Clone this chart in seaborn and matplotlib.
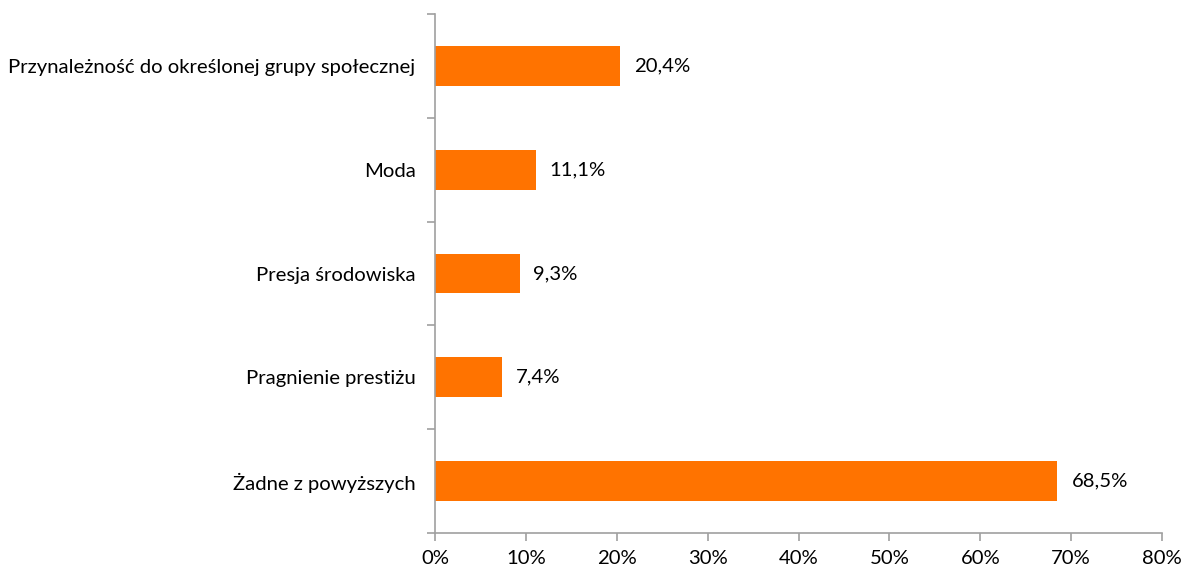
import matplotlib
matplotlib.use("Agg")
import matplotlib.pyplot as plt
import seaborn as sns
import pandas as pd
from matplotlib.ticker import FixedLocator, PercentFormatter

categories = ["Przynależność do określonej grupy społecznej", "Moda", "Presja środowiska",
              "Pragnienie prestiżu", "Żadne z powyższych"]
values = [20.4, 11.1, 9.3, 7.4, 68.5]
xticks = [0, 10, 20, 30, 40, 50, 60, 70, 80]

sns.set_theme(style="white")
plt.rcParams['font.family'] = ['Lato', 'DejaVu Sans']
FS = 14.6

df = pd.DataFrame({"cat": categories, "val": values})
fig = plt.figure(figsize=(11.86, 5.70), dpi=100)
ax = fig.add_axes([435/1186, 1-533/570, (1162-435)/1186, (533-14)/570])
sns.barplot(data=df, x="val", y="cat", orient="h", color="#FF7300", saturation=1,
            width=0.385, ax=ax)
for p in ax.patches:
    p.set_edgecolor("none")

ax.set_xlim(0, 80)
ax.set_ylim(4.5, -0.5)
ax.xaxis.set_major_locator(FixedLocator(xticks))
ax.xaxis.set_major_formatter(PercentFormatter(decimals=0))
ax.set_xlabel("")
ax.set_ylabel("")

n = len(categories)
ax.yaxis.set_major_locator(FixedLocator([i - 0.5 for i in range(n + 1)]))
ax.yaxis.set_minor_locator(FixedLocator(list(range(n))))
ax.yaxis.set_major_formatter(plt.NullFormatter())
ax.yaxis.set_minor_formatter(plt.FixedFormatter(categories))
ax.tick_params(axis="y", which="minor", length=0, pad=14, labelsize=FS, colors="black")
ax.tick_params(axis="y", which="major", length=6, width=1.2, color="#A0A0A0", direction="out", left=True)
ax.tick_params(axis="x", which="major", length=6, width=1.2, color="#A0A0A0", direction="out",
               bottom=True, labelsize=FS, labelcolor="black", pad=6)

for s in ["top", "right"]:
    ax.spines[s].set_visible(False)
for s in ["left", "bottom"]:
    ax.spines[s].set_color("#A0A0A0")
    ax.spines[s].set_linewidth(1.2)

for i, v in enumerate(values):
    ax.annotate(f"{v:.1f}%".replace(".", ","), xy=(v, i), xytext=(10, 0),
                textcoords="offset points", va="center", ha="left", fontsize=FS, color="black")

fig.savefig("out.png", dpi=100)
